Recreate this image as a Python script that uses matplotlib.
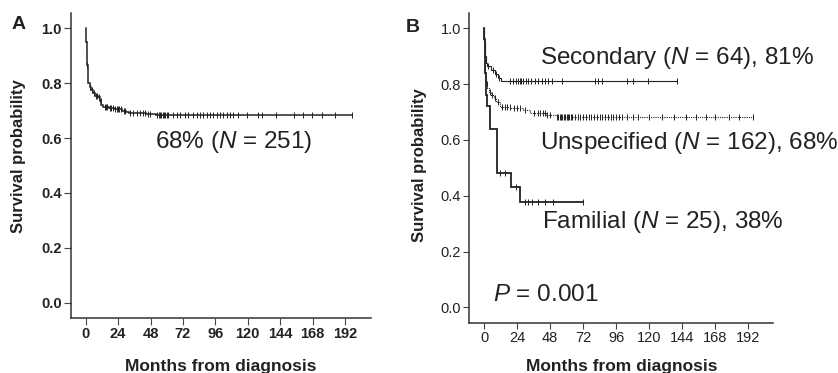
import numpy as np
import matplotlib
matplotlib.use('Agg')
import matplotlib.pyplot as plt

plt.rcParams['font.family'] = ['Liberation Sans', 'DejaVu Sans']
plt.rcParams['mathtext.fontset'] = 'custom'
plt.rcParams['mathtext.rm'] = 'Liberation Sans'
plt.rcParams['mathtext.it'] = 'Liberation Sans:italic'

INK = '#222222'

# ---------------- Panel A: all patients ----------------
all_times = [0, 0.3, 0.6, 1.0, 1.5, 2.0, 3.0, 4.0, 5.5, 7, 9, 10.5, 11.5, 13, 17, 21, 27, 30, 32, 45, 52]
all_surv = [1.0, 0.95, 0.90, 0.866, 0.83, 0.80, 0.787, 0.775, 0.763, 0.755, 0.748, 0.735, 0.72,
            0.714, 0.71, 0.706, 0.70, 0.695, 0.69, 0.687, 0.683]
all_censor = [1.0, 3.2, 5, 6, 7.5, 8, 9.5, 11, 14, 15, 16, 18, 19, 20, 22, 23, 24, 25, 26, 28, 29,
              33, 35, 37.8, 40, 42.7, 44, 46.4, 47.6, 53, 54, 55, 56, 57, 58, 59, 60, 61, 64.9,
              67.4, 69.8, 73.5, 76, 79.7, 82.2, 84.6, 87.1, 89.6, 92, 94.5, 97, 99.4, 101.9,
              104.4, 106.8, 109.3, 113, 119.2, 127.8, 130.3, 141, 154, 161, 167.5, 175, 185, 197]
all_end = 197

# ---------------- Panel B: by group ----------------
sec_times = [0, 0.3, 0.7, 1.2, 1.9, 5.4, 7.7, 10.2, 12.2]
sec_surv = [1.0, 0.95, 0.90, 0.876, 0.866, 0.85, 0.838, 0.822, 0.81]
sec_censor = [3, 6.5, 9, 11, 18.6, 21, 23.5, 24.7, 26, 27.1, 28.3, 30.7, 32, 34.4, 36.8, 39.5,
              41.9, 44.3, 46.7, 49.2, 56.4, 80.6, 83, 85.5, 103.7, 108.5, 119.4, 140]
sec_end = 140

uns_times = [0, 0.2, 0.4, 0.7, 1.0, 1.5, 2.5, 3.5, 5, 7, 9, 11.4, 19.7, 28.3, 33.4, 45, 52.8]
uns_surv = [1.0, 0.95, 0.90, 0.86, 0.83, 0.80, 0.785, 0.773, 0.76, 0.749, 0.737, 0.719, 0.713,
            0.707, 0.695, 0.689, 0.683]
uns_censor = [2, 4, 6, 8, 10, 13, 15, 17, 19, 22, 24, 26, 30, 36, 39, 41, 43, 44.5, 46, 48, 53, 54,
              55, 56, 57, 58, 59, 60, 61, 62, 63, 64, 66, 68, 70, 72, 74, 76, 78, 80, 82, 84, 86,
              88, 90, 92, 94, 96, 98, 100, 104, 108, 112, 120, 129, 138, 147, 154, 161, 168, 178,
              185, 195.6]
uns_end = 195.6

fam_times = [0, 0.2, 0.4, 0.6, 0.8, 1.3, 1.8, 2.4, 4.1, 4.6, 9.7, 19.4, 25.9]
fam_surv = [1.0, 0.96, 0.92, 0.88, 0.84, 0.80, 0.76, 0.72, 0.68, 0.64, 0.48, 0.432, 0.378]
fam_censor = [11.6, 15.3, 23.4, 29.5, 31.9, 34.6, 39.5, 44.3, 50.4, 72]
fam_end = 72

x_ticks = [0, 24, 48, 72, 96, 120, 144, 168, 192]
y_ticks = [0.0, 0.2, 0.4, 0.6, 0.8, 1.0]


def km(ax, times, surv, censor, end, lw, ls='-'):
    t = np.append(np.asarray(times, float), end)
    s = np.append(np.asarray(surv, float), surv[-1])
    ax.step(t, s, where='post', color=INK, lw=lw, ls=ls, solid_joinstyle='miter')
    c = np.asarray(censor, float)
    idx = np.searchsorted(np.asarray(times, float), c, side='right') - 1
    ax.plot(c, np.asarray(surv)[idx], ls='none', marker='|', ms=4.5, mew=0.7, color=INK)


def style(ax, bold, ticklen):
    for sp in ['top', 'right']:
        ax.spines[sp].set_visible(False)
    for sp in ['left', 'bottom']:
        ax.spines[sp].set_linewidth(1.1)
        ax.spines[sp].set_color('#333333')
    ax.set_xticks(x_ticks)
    ax.set_yticks(y_ticks)
    ax.set_xticklabels([str(v) for v in x_ticks])
    ax.set_yticklabels(['%.1f' % v for v in y_ticks])
    ax.tick_params(direction='out', length=ticklen, width=0.8, color='#444444',
                   labelsize=10.5, labelcolor=INK, pad=1.5)
    for lab in ax.get_xticklabels() + ax.get_yticklabels():
        lab.set_fontweight('bold' if bold else 'normal')


fig = plt.figure(figsize=(8.38, 3.73), dpi=100)

axA = fig.add_axes([0.0844, 0.1483, 0.3583, 0.8168])
axA.set_xlim(-11.1, 211.3)
axA.set_ylim(-0.055, 1.056)
km(axA, all_times, all_surv, all_censor, all_end, lw=1.1)
style(axA, True, 5)
axA.text(51.3, 0.587, '68% ($N$ = 251)', fontsize=17.5, color=INK, va='center', ha='left')

axB = fig.add_axes([0.5600, 0.1349, 0.3628, 0.8311])
axB.set_xlim(-10.7, 210.2)
axB.set_ylim(-0.055, 1.056)
km(axB, sec_times, sec_surv, sec_censor, sec_end, lw=0.8)
km(axB, uns_times, uns_surv, uns_censor, uns_end, lw=0.8, ls=(0, (1, 1)))
km(axB, fam_times, fam_surv, fam_censor, fam_end, lw=1.3)
style(axB, False, 4.5)
axB.text(40.7, 0.894, 'Secondary ($N$ = 64), 81%', fontsize=17.5, color=INK, va='center', ha='left')
axB.text(40.7, 0.589, 'Unspecified ($N$ = 162), 68%', fontsize=17.5, color=INK, va='center', ha='left')
axB.text(42.0, 0.306, 'Familial ($N$ = 25), 38%', fontsize=17.5, color=INK, va='center', ha='left')
axB.text(6.3, 0.044, '$P$ = 0.001', fontsize=17.5, color=INK, va='center', ha='left')

# panel letters
fig.text(12 / 838, 1 - 16 / 373, 'A', fontsize=14, fontweight='bold', color=INK, va='top', ha='left')
fig.text(406 / 838, 1 - 19 / 373, 'B', fontsize=14, fontweight='bold', color=INK, va='top', ha='left')

# axis labels
fig.text(18.5 / 838, 1 - 156 / 373, 'Survival probability', rotation=90, fontsize=12,
         fontweight='bold', color=INK, va='center', ha='center')
fig.text(419 / 838, 1 - 165 / 373, 'Survival probability', rotation=90, fontsize=12,
         fontweight='bold', color=INK, va='center', ha='center')
fig.text(221 / 838, 1 - 359 / 373, 'Months from diagnosis', fontsize=12.5,
         fontweight='bold', color=INK, va='top', ha='center')
fig.text(621.5 / 838, 1 - 359 / 373, 'Months from diagnosis', fontsize=12.5,
         fontweight='bold', color=INK, va='top', ha='center')

fig.savefig('out.png', dpi=100)
